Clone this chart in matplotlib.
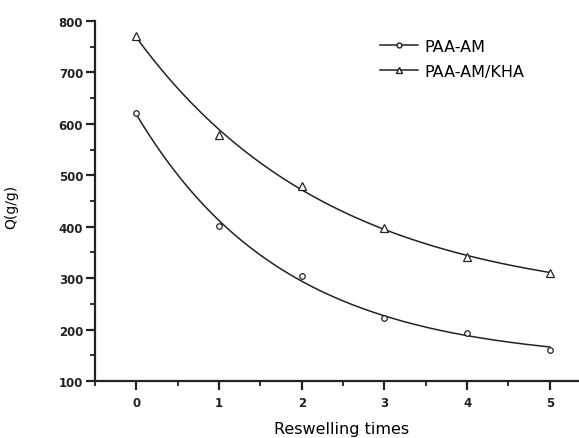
import matplotlib
matplotlib.use("Agg")
import matplotlib.pyplot as plt
import numpy as np

times = [0, 1, 2, 3, 4, 5]
paa_am = [621, 402, 305, 222, 194, 161]
paa_am_kha = [771, 579, 479, 398, 341, 310]


def exp_fit(x, y):
    # y = a*exp(-x/t) + c, grid search on t, least squares for a, c
    x = np.asarray(x, float)
    y = np.asarray(y, float)
    best = None
    for t in np.linspace(0.3, 6, 400):
        A = np.column_stack([np.exp(-x / t), np.ones_like(x)])
        coef, res, _, _ = np.linalg.lstsq(A, y, rcond=None)
        err = np.sum((A @ coef - y) ** 2)
        if best is None or err < best[0]:
            best = (err, t, coef)
    _, t, (a, c) = best
    return lambda xx: a * np.exp(-xx / t) + c


fig = plt.figure(figsize=(5.79, 4.39), dpi=100)
ax = fig.add_axes([0.164, 0.130, 0.857, 0.820])

xs = np.linspace(0, 5, 200)
f1 = exp_fit(times, paa_am)
f2 = exp_fit(times, paa_am_kha)

ax.plot(xs, f1(xs), color='#222222', lw=1.1)
ax.plot(xs, f2(xs), color='#222222', lw=1.1)
ax.plot(times, paa_am, ls='none', marker='o', ms=4, mfc='white', mec='#222222', mew=0.9)
ax.plot(times, paa_am_kha, ls='none', marker='^', ms=6, mfc='white', mec='#222222', mew=0.9)

l1, = ax.plot([], [], color='#222222', lw=1.1, marker='o', ms=3.5, mfc='white', mec='#222222')
l2, = ax.plot([], [], color='#222222', lw=1.1, marker='^', ms=5, mfc='white', mec='#222222')
ax.legend([l1, l2], ['PAA-AM', 'PAA-AM/KHA'], loc='upper left', bbox_to_anchor=(0.545, 0.99),
          frameon=False, fontsize=11.5, handlelength=2.4, handletextpad=0.4, labelspacing=0.6)

ax.set_xlim(-0.5, 5.5)
ax.set_ylim(100, 800)
ax.set_xticks([0, 1, 2, 3, 4, 5])
ax.set_xticks([-0.5, 0.5, 1.5, 2.5, 3.5, 4.5], minor=True)
ax.set_yticks(range(100, 801, 100))
ax.set_yticks(range(150, 800, 100), minor=True)

for s in ['top', 'right']:
    ax.spines[s].set_visible(False)
for s in ['left', 'bottom']:
    ax.spines[s].set_linewidth(1.6)
    ax.spines[s].set_color('#222222')

ax.tick_params(which='major', direction='out', length=6.5, width=1.6, colors='#222222',
               labelsize=8.5, pad=2)
ax.tick_params(which='minor', direction='out', length=3.5, width=1.3, colors='#222222')
ax.tick_params(axis='x', which='major', pad=4)
for lab in ax.get_xticklabels() + ax.get_yticklabels():
    lab.set_fontweight('bold')

ax.set_xlabel('Reswelling times', fontsize=11.5)
ax.xaxis.set_label_coords(0.496, -0.112)
ax.set_ylabel('Q(g/g)', fontsize=10)
ax.yaxis.set_label_coords(-0.155, 0.486)

fig.savefig('out.png', dpi=100)
